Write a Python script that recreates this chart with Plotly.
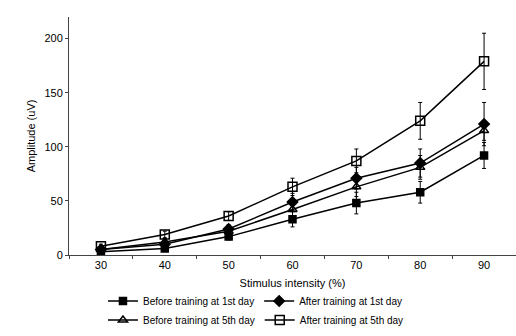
import plotly.graph_objects as go

intensity = ["30", "40", "50", "60", "70", "80", "90"]

before_1st = [3, 6, 17, 33, 48, 58, 92]
before_1st_err = [1, 2, 3, 7, 10, 10, 12]

after_1st = [5, 10, 24, 49, 71, 85, 121]
after_1st_err = [2, 3, 4, 8, 10, 13, 20]

before_5th = [5, 12, 22, 42, 63, 81, 115]
before_5th_err = [2, 3, 4, 7, 9, 11, 9]

after_5th = [8, 19, 36, 63, 87, 124, 179]
after_5th_err = [2, 3, 4, 8, 11, 17, 26]

y_ticks = [0, 50, 100, 150, 200]

FONT = "Liberation Sans, Arial, sans-serif"

series = [
    ("Before training at 1st day", before_1st, before_1st_err, "square", 7, "legend"),
    ("After training at 1st day", after_1st, after_1st_err, "diamond", 8, "legend"),
    ("Before training at 5th day", before_5th, before_5th_err, "triangle-up-open", 8, "legend2"),
    ("After training at 5th day", after_5th, after_5th_err, "square-open", 9, "legend2"),
]

fig = go.Figure()
for name, ys, err, sym, size, lg in series:
    fig.add_trace(go.Scatter(
        x=intensity, y=ys, name=name, mode="lines+markers",
        line=dict(color="black", width=1.5),
        marker=dict(symbol=sym, size=size, color="black",
                    line=dict(color="black", width=1.5)),
        error_y=dict(type="data", array=err, visible=True,
                     color="black", thickness=1, width=2),
        legend=lg,
    ))

legend_common = dict(
    orientation="h", xanchor="left", yanchor="middle",
    font=dict(family=FONT, size=10, color="black"),
    itemwidth=30, bgcolor="rgba(0,0,0,0)", tracegroupgap=0,
)

fig.update_layout(
    width=516, height=336,
    margin=dict(l=69, r=0, t=17, b=81, autoexpand=False),
    paper_bgcolor="white", plot_bgcolor="white",
    font=dict(family=FONT, size=10, color="black"),
    showlegend=True,
    legend=dict(x=0.076, y=-0.193, **legend_common),
    legend2=dict(x=0.076, y=-0.273, **legend_common),
    xaxis=dict(
        type="category", tickson="boundaries", ticks="outside", ticklen=3,
        tickcolor="#444", showline=True, linecolor="#444", linewidth=1,
        showgrid=False, zeroline=False,
        tickfont=dict(family=FONT, size=11, color="black"),
        title=dict(text="Stimulus intensity (%)", standoff=9,
                   font=dict(family=FONT, size=11, color="black")),
        range=[-0.5, 6.5],
    ),
    yaxis=dict(
        range=[0, 220], tickvals=y_ticks, ticks="outside", ticklen=3,
        tickcolor="#444", showline=True, linecolor="#444", linewidth=1,
        showgrid=False, zeroline=False,
        tickfont=dict(family=FONT, size=11, color="black"),
        title=dict(text="Amplitude (uV)", standoff=6,
                   font=dict(family=FONT, size=11, color="black")),
    ),
)

fig.write_html("out.html",
               config={"displayModeBar": False},
               post_script="document.body.style.margin='0';")
